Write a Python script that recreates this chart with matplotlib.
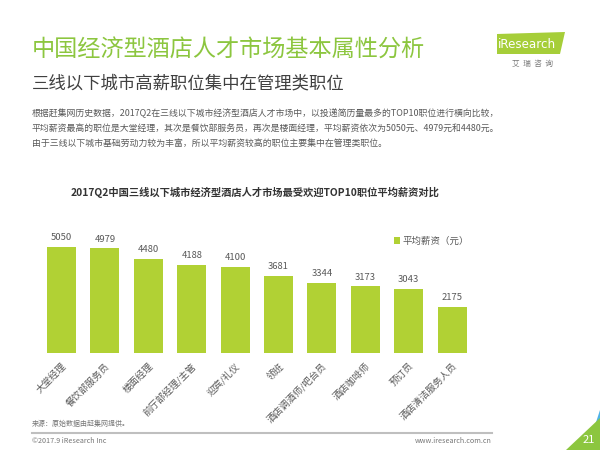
import matplotlib
matplotlib.use("Agg")
import matplotlib.pyplot as plt
from matplotlib.patches import Polygon

plt.rcParams['font.family'] = ['Noto Sans CJK SC', 'DejaVu Sans']

# data
jobs = ['大堂经理', '餐饮部服务员', '楼面经理', '前厅部经理/主管', '迎宾/礼仪',
        '领班', '酒店调酒师/吧台员', '酒店咖啡师', '预订员', '酒店清洁服务人员']
salary = [5050, 4979, 4480, 4188, 4100, 3681, 3344, 3173, 3043, 2175]
series_name = '平均薪资（元）'

W, H = 600, 450
bar_color = '#b1d134'
green = '#8cc63f'
gray = '#595959'

fig = plt.figure(figsize=(6, 4.5), dpi=100)

def fx(x):
    return x / W

def fy(y):
    return 1 - y / H

# header texts
fig.text(fx(32), fy(50), '中国经济型酒店人才市场基本属性分析', color=green,
         fontsize=16.7, va='center', ha='left')
fig.text(fx(32), fy(84), '三线以下城市高薪职位集中在管理类职位', color='#404040',
         fontsize=12.5, va='center', ha='left')
para = ['根据赶集网历史数据，2017Q2在三线以下城市经济型酒店人才市场中，以投递简历量最多的TOP10职位进行横向比较，',
        '平均薪资最高的职位是大堂经理，其次是餐饮部服务员，再次是楼面经理，平均薪资依次为5050元、4979元和4480元。',
        '由于三线以下城市基础劳动力较为丰富，所以平均薪资较高的职位主要集中在管理类职位。']
for i, line in enumerate(para):
    fig.text(fx(32), fy(113 + 15 * i), line, color=gray, fontsize=6.4,
             va='center', ha='left')

# logo
fig.patches.append(Polygon([(fx(497), fy(34)), (fx(565), fy(32)),
                            (fx(560), fy(54)), (fx(497), fy(54))],
                           closed=True, transform=fig.transFigure,
                           facecolor='#a6ce39', edgecolor='none'))
fig.text(fx(498), fy(44), 'iResearch', color='white', fontsize=8.6,
         va='center', ha='left', family=['DejaVu Sans'])
fig.text(fx(533), fy(64), '艾  瑞  咨  询', color='#777777', fontsize=5.5,
         va='center', ha='center')

# chart
ax = fig.add_axes([fx(39.8), fy(353), 434 / W, 126 / H])
bars = ax.bar(range(len(jobs)), salary, width=0.67, color=bar_color,
              label=series_name)
for b, v in zip(bars, salary):
    ax.text(b.get_x() + b.get_width() / 2, v + 230, str(v), ha='center',
            va='bottom', fontsize=6.8, color=gray)
ax.set_xlim(-0.5, len(jobs) - 0.5)
ax.set_ylim(0, 6000)
ax.set_xticks(range(len(jobs)))
ax.set_xticklabels(jobs, rotation=45, ha='right', rotation_mode='anchor',
                   fontsize=6.8, color=gray)
ax.tick_params(axis='x', length=0, pad=6)
ax.set_yticks([])
for s in ax.spines.values():
    s.set_visible(False)
ax.legend(loc='center left', bbox_to_anchor=(fx(385), fy(241)),
          bbox_transform=fig.transFigure, frameon=False, fontsize=6.8,
          handlelength=0.7, handleheight=0.7, handletextpad=0.3,
          labelcolor=gray)

fig.text(fx(255), fy(192), '2017Q2中国三线以下城市经济型酒店人才市场最受欢迎TOP10职位平均薪资对比',
         fontsize=7.4, fontweight='bold', color='#333333', ha='center', va='center')

# footer
fig.text(fx(32), fy(424), '来源：原始数据由赶集网提供。', fontsize=5, color='#777777',
         va='center', ha='left')
fig.add_artist(plt.Line2D([fx(32), fx(492)], [fy(433), fy(433)],
                          color='#bfbfbf', lw=1.5, transform=fig.transFigure))
fig.text(fx(32), fy(441), '©2017.9 iResearch Inc', fontsize=5.2, color='#777777',
         va='center', ha='left')
fig.text(fx(492), fy(441), 'www.iresearch.com.cn', fontsize=5.2, color='#777777',
         va='center', ha='right')
fig.patches.append(Polygon([(fx(587), fy(450)), (fx(600), fy(410)), (fx(600), fy(450))],
                           closed=True, transform=fig.transFigure,
                           facecolor='#4fb3e8', edgecolor='none'))
fig.patches.append(Polygon([(fx(566), fy(450)), (fx(600), fy(418)), (fx(600), fy(450))],
                           closed=True, transform=fig.transFigure,
                           facecolor='#8cc63f', edgecolor='none'))
fig.text(fx(589), fy(440), '21', fontsize=8, color='white', va='center', ha='center')

fig.savefig('out.png', dpi=100)
